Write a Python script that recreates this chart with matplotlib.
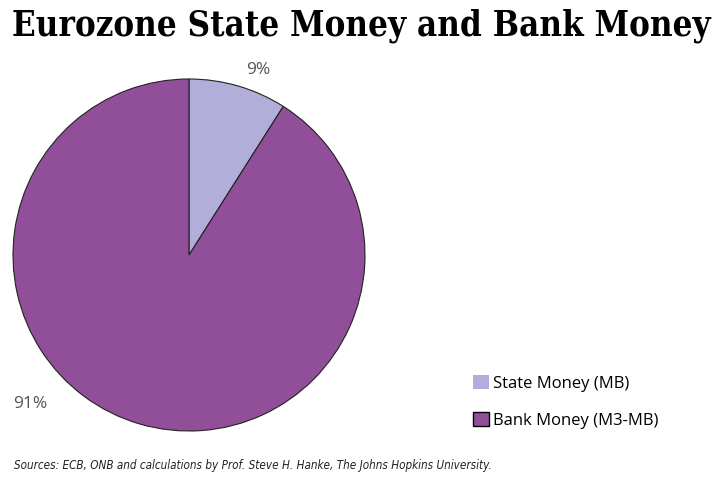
import matplotlib.pyplot as plt
from matplotlib.patches import Patch

labels = ['State Money (MB)', 'Bank Money (M3-MB)']
shares = [9, 91]
colors = ['#b1aed9', '#914f9a']
pct_labels = ['9%', '91%']

fig = plt.figure(figsize=(7.22, 4.88), dpi=100)

# title
fig.text(12 / 722, 1 - 26 / 488, 'Eurozone State Money and Bank Money', fontsize=24.9,
         fontweight='bold', family='DejaVu Serif', fontstretch='condensed',
         va='center', ha='left')

# pie
ax = fig.add_axes([13 / 722, (488 - 431) / 488, 352 / 722, 352 / 488])
wedges, _ = ax.pie(shares, colors=colors, startangle=90, counterclock=False,
                   wedgeprops=dict(edgecolor='#222222', linewidth=0.8))
ax.set_xlim(-1, 1)
ax.set_ylim(-1, 1)
ax.set_aspect('equal')

# percentage labels
fig.text(258 / 722, 1 - 70 / 488, pct_labels[0], fontsize=12.5, color='#555555',
         family='Open Sans', ha='center', va='center')
fig.text(30 / 722, 1 - 404 / 488, pct_labels[1], fontsize=12.5, color='#555555',
         family='Open Sans', ha='center', va='center')

# legend
handles = [Patch(facecolor=colors[0], edgecolor='none'),
           Patch(facecolor=colors[1], edgecolor='black', linewidth=1)]
fig.legend(handles, labels, loc='center left', bbox_to_anchor=(458 / 722, 1 - 402 / 488),
           frameon=False, handlelength=0.95, handleheight=0.95,
           handletextpad=0.25, labelspacing=1.2, prop={'family': 'Open Sans', 'size': 12})

# source
fig.text(14 / 722, 1 - 465 / 488,
         'Sources: ECB, ONB and calculations by Prof. Steve H. Hanke, The Johns Hopkins University.',
         fontsize=8.4, style='italic', family='DejaVu Sans', fontstretch='condensed',
         color='#222222', ha='left', va='center')

fig.savefig('out.png', dpi=100)
